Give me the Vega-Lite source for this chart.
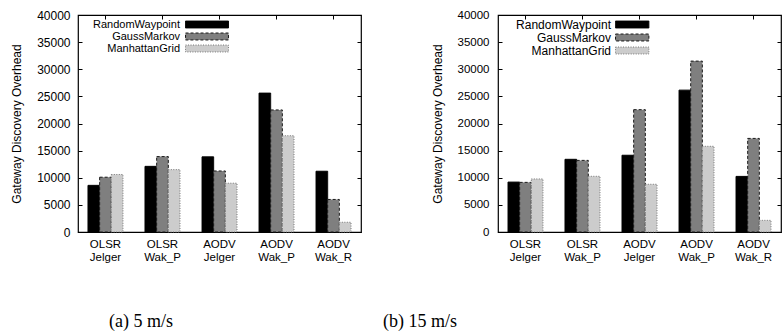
{
  "$schema": "https://vega.github.io/schema/vega-lite/v6.json",
  "background": "white",
  "padding": {"left": 10, "top": 8, "right": 0, "bottom": 0},
  "datasets": {
    "d": [
      {"speed": "5", "proto": "OLSR Jelger", "model": "RandomWaypoint", "value": 8600},
      {"speed": "5", "proto": "OLSR Jelger", "model": "GaussMarkov", "value": 10100},
      {"speed": "5", "proto": "OLSR Jelger", "model": "ManhattanGrid", "value": 10600},
      {"speed": "5", "proto": "OLSR Wak_P", "model": "RandomWaypoint", "value": 12100},
      {"speed": "5", "proto": "OLSR Wak_P", "model": "GaussMarkov", "value": 13900},
      {"speed": "5", "proto": "OLSR Wak_P", "model": "ManhattanGrid", "value": 11500},
      {"speed": "5", "proto": "AODV Jelger", "model": "RandomWaypoint", "value": 13850},
      {"speed": "5", "proto": "AODV Jelger", "model": "GaussMarkov", "value": 11250},
      {"speed": "5", "proto": "AODV Jelger", "model": "ManhattanGrid", "value": 9000},
      {"speed": "5", "proto": "AODV Wak_P", "model": "RandomWaypoint", "value": 25600},
      {"speed": "5", "proto": "AODV Wak_P", "model": "GaussMarkov", "value": 22500},
      {"speed": "5", "proto": "AODV Wak_P", "model": "ManhattanGrid", "value": 17750},
      {"speed": "5", "proto": "AODV Wak_R", "model": "RandomWaypoint", "value": 11200},
      {"speed": "5", "proto": "AODV Wak_R", "model": "GaussMarkov", "value": 6000},
      {"speed": "5", "proto": "AODV Wak_R", "model": "ManhattanGrid", "value": 1800},
      {"speed": "15", "proto": "OLSR Jelger", "model": "RandomWaypoint", "value": 9200},
      {"speed": "15", "proto": "OLSR Jelger", "model": "GaussMarkov", "value": 9150},
      {"speed": "15", "proto": "OLSR Jelger", "model": "ManhattanGrid", "value": 9780},
      {"speed": "15", "proto": "OLSR Wak_P", "model": "RandomWaypoint", "value": 13400},
      {"speed": "15", "proto": "OLSR Wak_P", "model": "GaussMarkov", "value": 13200},
      {"speed": "15", "proto": "OLSR Wak_P", "model": "ManhattanGrid", "value": 10270},
      {"speed": "15", "proto": "AODV Jelger", "model": "RandomWaypoint", "value": 14150},
      {"speed": "15", "proto": "AODV Jelger", "model": "GaussMarkov", "value": 22550},
      {"speed": "15", "proto": "AODV Jelger", "model": "ManhattanGrid", "value": 8800},
      {"speed": "15", "proto": "AODV Wak_P", "model": "RandomWaypoint", "value": 26150},
      {"speed": "15", "proto": "AODV Wak_P", "model": "GaussMarkov", "value": 31500},
      {"speed": "15", "proto": "AODV Wak_P", "model": "ManhattanGrid", "value": 15800},
      {"speed": "15", "proto": "AODV Wak_R", "model": "RandomWaypoint", "value": 10250},
      {"speed": "15", "proto": "AODV Wak_R", "model": "GaussMarkov", "value": 17250},
      {"speed": "15", "proto": "AODV Wak_R", "model": "ManhattanGrid", "value": 2150}
    ]
  },
  "config": {
    "font": "Liberation Sans",
    "view": {"stroke": "black", "strokeWidth": 1.2},
    "axis": {"domain": false, "grid": false, "labelFont": "Liberation Sans", "titleFont": "Liberation Sans", "labelColor": "black", "titleColor": "black", "tickColor": "black", "titleFontWeight": "normal"},
    "legend": {
      "orient": "none",
      "title": null,
      "padding": 0,
      "labelFont": "Liberation Sans",
      "labelColor": "black",
      "labelAlign": "right",
      "symbolSize": 144,
      "symbolStrokeWidth": 1,
      "symbolOpacity": 1,
      "rowPadding": 0,
      "offset": 0
    },
    "title": {"font": "Liberation Serif", "fontSize": 18, "fontWeight": "normal", "color": "black"}
  },
  "spacing": 19,
  "resolve": {"scale": {"fill": "independent", "stroke": "independent", "strokeDash": "independent"}, "legend": {"fill": "independent", "stroke": "independent", "strokeDash": "independent"}},
  "hconcat": [
    {
      "width": 283,
      "height": 217,
      "title": {"text": "(a) 5 m/s", "orient": "bottom", "anchor": "start", "frame": "group", "dx": 31, "offset": 50},
      "data": {"name": "d"},
      "transform": [{"filter": "datum.speed == '5'"}],
      "encoding": {
        "x": {"field": "proto", "type": "nominal", "sort": ["OLSR Jelger", "OLSR Wak_P", "AODV Jelger", "AODV Wak_P", "AODV Wak_R"], "scale": {"paddingInner": 0.386, "paddingOuter": 0.175}},
        "xOffset": {"field": "model", "type": "nominal", "sort": ["RandomWaypoint", "GaussMarkov", "ManhattanGrid"]},
        "y": {"field": "value", "type": "quantitative", "scale": {"domain": [0, 40000]}}
      },
      "layer": [
        {
          "mark": {"type": "bar", "strokeWidth": 1},
          "encoding": {
            "x": {"field": "proto", "type": "nominal", "sort": ["OLSR Jelger", "OLSR Wak_P", "AODV Jelger", "AODV Wak_P", "AODV Wak_R"], "axis": {"title": null, "labelExpr": "split(datum.label, ' ')", "labelAngle": 0, "ticks": false, "labelFontSize": 11.5, "labelLineHeight": 13, "labelPadding": 6}},
            "y": {"field": "value", "type": "quantitative", "axis": {"title": "Gateway Discovery Overhead", "titleFontSize": 12, "labelFontSize": 12, "values": [0, 5000, 10000, 15000, 20000, 25000, 30000, 35000, 40000], "format": "d", "tickSize": -4, "labelPadding": 12, "titlePadding": 13}},
            "fill": {"field": "model", "type": "nominal", "sort": ["RandomWaypoint", "GaussMarkov", "ManhattanGrid"], "scale": {"domain": ["RandomWaypoint", "GaussMarkov", "ManhattanGrid"], "range": ["#000000", "#7f7f7f", "#cccccc"]}, "legend": {"labelFontSize": 11, "symbolType": "M-3.58,-0.58H3.58V0.58H-3.58Z", "labelOffset": -33.5, "legendX": 122.5, "legendY": 3}},
            "stroke": {"field": "model", "type": "nominal", "sort": ["RandomWaypoint", "GaussMarkov", "ManhattanGrid"], "scale": {"domain": ["RandomWaypoint", "GaussMarkov", "ManhattanGrid"], "range": ["#000000", "#1a1a1a", "#777777"]}, "legend": {"labelFontSize": 11, "symbolType": "M-3.58,-0.58H3.58V0.58H-3.58Z", "labelOffset": -33.5, "legendX": 122.5, "legendY": 3}},
            "strokeDash": {"field": "model", "type": "nominal", "sort": ["RandomWaypoint", "GaussMarkov", "ManhattanGrid"], "scale": {"domain": ["RandomWaypoint", "GaussMarkov", "ManhattanGrid"], "range": [[1, 0], [3, 2], [1, 1.5]]}, "legend": {"labelFontSize": 11, "symbolType": "M-3.58,-0.58H3.58V0.58H-3.58Z", "labelOffset": -33.5, "legendX": 122.5, "legendY": 3}}
          }
        },
        {
          "mark": {"type": "bar", "opacity": 0},
          "encoding": {
            "x": {"field": "proto", "type": "nominal", "sort": ["OLSR Jelger", "OLSR Wak_P", "AODV Jelger", "AODV Wak_P", "AODV Wak_R"], "axis": {"orient": "top", "title": null, "labels": false, "ticks": true, "tickSize": -4}},
            "y": {"field": "value", "type": "quantitative", "axis": {"orient": "right", "title": null, "labels": false, "values": [0, 5000, 10000, 15000, 20000, 25000, 30000, 35000, 40000], "tickSize": -4}}
          }
        }
      ],
      "resolve": {"axis": {"x": "independent", "y": "independent"}}
    },
    {
      "width": 283,
      "height": 217,
      "title": {"text": "(b) 15 m/s", "orient": "bottom", "anchor": "start", "frame": "group", "dx": -115, "offset": 50},
      "data": {"name": "d"},
      "transform": [{"filter": "datum.speed == '15'"}],
      "encoding": {
        "x": {"field": "proto", "type": "nominal", "sort": ["OLSR Jelger", "OLSR Wak_P", "AODV Jelger", "AODV Wak_P", "AODV Wak_R"], "scale": {"paddingInner": 0.386, "paddingOuter": 0.175}},
        "xOffset": {"field": "model", "type": "nominal", "sort": ["RandomWaypoint", "GaussMarkov", "ManhattanGrid"]},
        "y": {"field": "value", "type": "quantitative", "scale": {"domain": [0, 40000]}}
      },
      "layer": [
        {
          "mark": {"type": "bar", "strokeWidth": 1},
          "encoding": {
            "x": {"field": "proto", "type": "nominal", "sort": ["OLSR Jelger", "OLSR Wak_P", "AODV Jelger", "AODV Wak_P", "AODV Wak_R"], "axis": {"title": null, "labelExpr": "split(datum.label, ' ')", "labelAngle": 0, "ticks": false, "labelFontSize": 11.5, "labelLineHeight": 13, "labelPadding": 6}},
            "y": {"field": "value", "type": "quantitative", "axis": {"title": "Gateway Discovery Overhead", "titleFontSize": 12, "labelFontSize": 11.5, "values": [0, 5000, 10000, 15000, 20000, 25000, 30000, 35000, 40000], "format": "d", "tickSize": -4, "labelPadding": 13, "titlePadding": 13}},
            "fill": {"field": "model", "type": "nominal", "sort": ["RandomWaypoint", "GaussMarkov", "ManhattanGrid"], "scale": {"domain": ["RandomWaypoint", "GaussMarkov", "ManhattanGrid"], "range": ["#000000", "#7f7f7f", "#cccccc"]}, "legend": {"labelFontSize": 12, "symbolType": "M-2.78,-0.58H2.78V0.58H-2.78Z", "labelOffset": -27.7, "legendX": 127.7, "legendY": 3}},
            "stroke": {"field": "model", "type": "nominal", "sort": ["RandomWaypoint", "GaussMarkov", "ManhattanGrid"], "scale": {"domain": ["RandomWaypoint", "GaussMarkov", "ManhattanGrid"], "range": ["#000000", "#1a1a1a", "#777777"]}, "legend": {"labelFontSize": 12, "symbolType": "M-2.78,-0.58H2.78V0.58H-2.78Z", "labelOffset": -27.7, "legendX": 127.7, "legendY": 3}},
            "strokeDash": {"field": "model", "type": "nominal", "sort": ["RandomWaypoint", "GaussMarkov", "ManhattanGrid"], "scale": {"domain": ["RandomWaypoint", "GaussMarkov", "ManhattanGrid"], "range": [[1, 0], [3, 2], [1, 1.5]]}, "legend": {"labelFontSize": 12, "symbolType": "M-2.78,-0.58H2.78V0.58H-2.78Z", "labelOffset": -27.7, "legendX": 127.7, "legendY": 3}}
          }
        },
        {
          "mark": {"type": "bar", "opacity": 0},
          "encoding": {
            "x": {"field": "proto", "type": "nominal", "sort": ["OLSR Jelger", "OLSR Wak_P", "AODV Jelger", "AODV Wak_P", "AODV Wak_R"], "axis": {"orient": "top", "title": null, "labels": false, "ticks": true, "tickSize": -4}},
            "y": {"field": "value", "type": "quantitative", "axis": {"orient": "right", "title": null, "labels": false, "values": [0, 5000, 10000, 15000, 20000, 25000, 30000, 35000, 40000], "tickSize": -4}}
          }
        }
      ],
      "resolve": {"axis": {"x": "independent", "y": "independent"}}
    }
  ]
}
